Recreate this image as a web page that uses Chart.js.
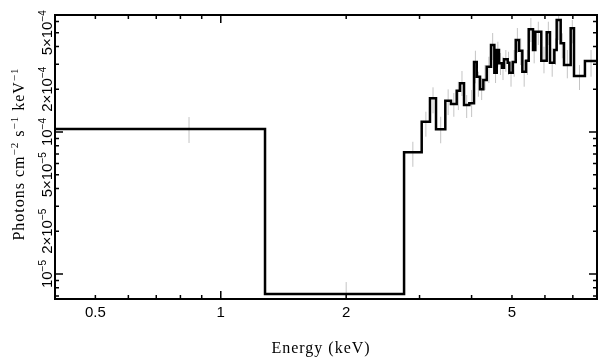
<!DOCTYPE html>
<html><head><meta charset="utf-8">
<script src="https://cdn.jsdelivr.net/npm/chart.js@4.4.0/dist/chart.umd.min.js"></script>
<style>html,body{margin:0;padding:0;background:#fff;}#wrap{width:609px;height:361px;position:relative;}</style>
</head><body><div id="wrap"><canvas id="c"></canvas></div>
<script>
// Bin edges (keV) and unfolded flux per bin (photons cm^-2 s^-1 keV^-1)
const binEdges = [0.4, 1.277, 2.754, 3.036, 3.178, 3.286, 3.459, 3.569, 3.684, 3.752, 3.836, 3.950, 4.054, 4.115, 4.191, 4.268, 4.349, 4.453, 4.536, 4.596, 4.654, 4.732, 4.785, 4.884, 4.928, 5.021, 5.105, 5.199, 5.295, 5.404, 5.485, 5.617, 5.689, 5.880, 6.058, 6.170, 6.318, 6.402, 6.545, 6.666, 6.917, 7.045, 7.484, 8.0];
const binFlux = [1.05e-4, 7.23e-6, 7.19e-5, 1.18e-4, 1.727e-4, 1.045e-4, 1.661e-4, 1.575e-4, 1.953e-4, 2.203e-4, 1.549e-4, 1.593e-4, 3.112e-4, 2.451e-4, 1.998e-4, 2.323e-4, 2.883e-4, 4.10e-4, 2.616e-4, 3.78e-4, 3.046e-4, 2.836e-4, 3.251e-4, 3.076e-4, 2.616e-4, 3.112e-4, 4.444e-4, 3.737e-4, 2.659e-4, 3.177e-4, 5.287e-4, 3.78e-4, 5.085e-4, 3.177e-4, 5.036e-4, 3.076e-4, 3.78e-4, 6.148e-4, 4.213e-4, 2.963e-4, 5.374e-4, 2.48e-4, 3.162e-4];
// Error bars
const errEnergy = [0.839, 2.0, 2.891, 3.107, 3.232, 3.372, 3.514, 3.626, 3.718, 3.793, 3.893, 4.001, 4.085, 4.153, 4.229, 4.309, 4.401, 4.494, 4.566, 4.625, 4.693, 4.758, 4.834, 4.906, 4.974, 5.062, 5.152, 5.247, 5.349, 5.444, 5.551, 5.653, 5.784, 5.968, 6.114, 6.245, 6.361, 6.473, 6.605, 6.790, 6.980, 7.262, 7.741];
const errHigh = [1.275e-4, 8.78e-6, 8.54e-5, 1.39e-4, 2.065e-4, 1.281e-4, 1.998e-4, 1.882e-4, 2.26e-4, 2.689e-4, 1.822e-4, 1.976e-4, 3.737e-4, 2.659e-4, 2.401e-4, 2.963e-4, 3.391e-4, 4.98e-4, 3.214e-4, 4.324e-4, 3.6e-4, 3.391e-4, 3.78e-4, 3.677e-4, 3.126e-4, 3.78e-4, 5.4e-4, 4.569e-4, 3.214e-4, 3.78e-4, 6.35e-4, 4.689e-4, 5.98e-4, 3.99e-4, 5.98e-4, 3.884e-4, 4.569e-4, 7.47e-4, 4.956e-4, 3.78e-4, 6.148e-4, 2.963e-4, 3.78e-4];
const errLow = [8.37e-5, 6.3e-6, 5.69e-5, 9.27e-5, 1.354e-4, 8.33e-5, 1.317e-4, 1.281e-4, 1.428e-4, 1.793e-4, 1.255e-4, 1.275e-4, 2.203e-4, 1.772e-4, 1.68e-4, 1.976e-4, 2.214e-4, 3.214e-4, 2.214e-4, 2.883e-4, 2.52e-4, 2.323e-4, 2.659e-4, 2.52e-4, 2.085e-4, 2.451e-4, 3.6e-4, 2.963e-4, 2.085e-4, 2.52e-4, 4.302e-4, 3.046e-4, 4.1e-4, 2.591e-4, 4.1e-4, 2.451e-4, 2.963e-4, 4.444e-4, 3.304e-4, 2.389e-4, 4.213e-4, 1.976e-4, 2.451e-4];
// Axes
const xMin = 0.4, xMax = 8;
const yMin = 6.67e-6, yMax = 6.67e-4;
const xTickLabels = [0.5, 1, 2, 5];
const xMajorTicks = [1];
const xMinorTicks = [0.4, 0.5, 0.6, 0.7, 0.8, 0.9, 2, 3, 4, 5, 6, 7, 8];
const yMajorTicks = [1e-5, 1e-4];
const yMinorTicks = [7e-6, 8e-6, 9e-6, 2e-5, 3e-5, 4e-5, 5e-5, 6e-5, 7e-5, 8e-5, 9e-5, 2e-4, 3e-4, 4e-4, 5e-4, 6e-4];
const yTickValues = [1e-5, 2e-5, 5e-5, 1e-4, 2e-4, 5e-4];
const yTickMantissa = ['', '2×', '5×', '', '2×', '5×'];
const yTickExponent = ['−5', '−5', '−5', '−4', '−4', '−4'];
const xTitle = 'Energy (keV)';
const yTitleParts = [{t:'Photons cm'}, {t:'−2', sup:true}, {t:' s'}, {t:'−1', sup:true}, {t:' keV'}, {t:'−1', sup:true}];

const stepPts = binEdges.map((e, i) => ({x: e, y: binFlux[Math.min(i, binFlux.length - 1)]}));
const errPts = [];
errEnergy.forEach((e, i) => { errPts.push({x: e, y: errLow[i]}, {x: e, y: errHigh[i]}, {x: e, y: null}); });

const SANS = '"Liberation Sans", Arial, sans-serif';
const SERIF = '"Liberation Serif", "Times New Roman", serif';

function drawRich(ctx, parts, cx, baseY, baseFont, supFont, rise) {
  let total = 0;
  const widths = parts.map(p => { ctx.font = p.sup ? supFont : baseFont; const w = ctx.measureText(p.t).width; total += w; return w; });
  let xx = cx - total / 2;
  parts.forEach((p, i) => { ctx.font = p.sup ? supFont : baseFont; ctx.fillText(p.t, xx, baseY - (p.sup ? rise : 0)); xx += widths[i]; });
}

const framePlugin = {
  id: 'frame',
  afterDatasetsDraw(chart) {
    const {ctx, chartArea: a, scales: {x, y}} = chart;
    ctx.save();
    ctx.strokeStyle = '#000';
    ctx.lineWidth = 1.5;
    ctx.beginPath();
    const xt = (list, len) => list.forEach(v => { const px = x.getPixelForValue(v);
      ctx.moveTo(px, a.bottom); ctx.lineTo(px, a.bottom - len);
      ctx.moveTo(px, a.top); ctx.lineTo(px, a.top + len); });
    const yt = (list, len) => list.forEach(v => { const py = y.getPixelForValue(v);
      ctx.moveTo(a.left, py); ctx.lineTo(a.left + len, py);
      ctx.moveTo(a.right, py); ctx.lineTo(a.right - len, py); });
    xt(xMajorTicks, 8); xt(xMinorTicks, 4);
    yt(yMajorTicks, 8); yt(yMinorTicks, 4);
    ctx.stroke();
    ctx.lineWidth = 2;
    ctx.strokeRect(a.left, a.top, a.right - a.left, a.bottom - a.top);
    ctx.fillStyle = '#000';
    ctx.textAlign = 'left'; ctx.textBaseline = 'alphabetic';
    // y tick labels (rotated)
    yTickValues.forEach((v, i) => {
      const py = y.getPixelForValue(v);
      ctx.save(); ctx.translate(52, py); ctx.rotate(-Math.PI / 2);
      drawRich(ctx, [{t: yTickMantissa[i] + '10'}, {t: yTickExponent[i], sup: true}], 0, 0, '15px ' + SANS, '10px ' + SANS, 6);
      ctx.restore();
    });
    // y title
    try { ctx.letterSpacing = '1px'; } catch (e) {}
    ctx.save(); ctx.translate(24, 154); ctx.rotate(-Math.PI / 2);
    drawRich(ctx, yTitleParts, 0, 0, '16px ' + SERIF, '11px ' + SERIF, 6);
    ctx.restore();
    // x title
    drawRich(ctx, [{t: xTitle}], 321, 353, '16px ' + SERIF, '11px ' + SERIF, 6);
    ctx.restore();
  }
};

new Chart(document.getElementById('c'), {
  type: 'line',
  data: { datasets: [
    { label: 'spectrum', data: stepPts, stepped: 'before', borderColor: '#000', borderWidth: 2.5, pointRadius: 0, fill: false, order: 1 },
    { label: 'errors', data: errPts, borderColor: '#c4c4c4', borderWidth: 1, pointRadius: 0, spanGaps: false, fill: false, order: 2 }
  ]},
  options: {
    responsive: true, maintainAspectRatio: false, animation: false, devicePixelRatio: 1,
    layout: { padding: { left: 0, right: 12, top: 15, bottom: 0 } },
    plugins: { legend: { display: false }, tooltip: { enabled: false } },
    scales: {
      x: { type: 'logarithmic', min: xMin, max: xMax,
        afterFit(s) { s.height = 62; },
        afterBuildTicks(s) { s.ticks = xTickLabels.map(v => ({ value: v })); },
        ticks: { autoSkip: false, maxRotation: 0, minRotation: 0, padding: 5, color: '#000', font: { family: SANS, size: 15 }, callback: v => String(v) },
        grid: { display: false, drawTicks: false }, border: { display: false } },
      y: { type: 'logarithmic', min: yMin, max: yMax,
        afterFit(s) { s.width = 55; },
        ticks: { display: false }, grid: { display: false }, border: { display: false } }
    }
  },
  plugins: [framePlugin]
});
</script></body></html>
